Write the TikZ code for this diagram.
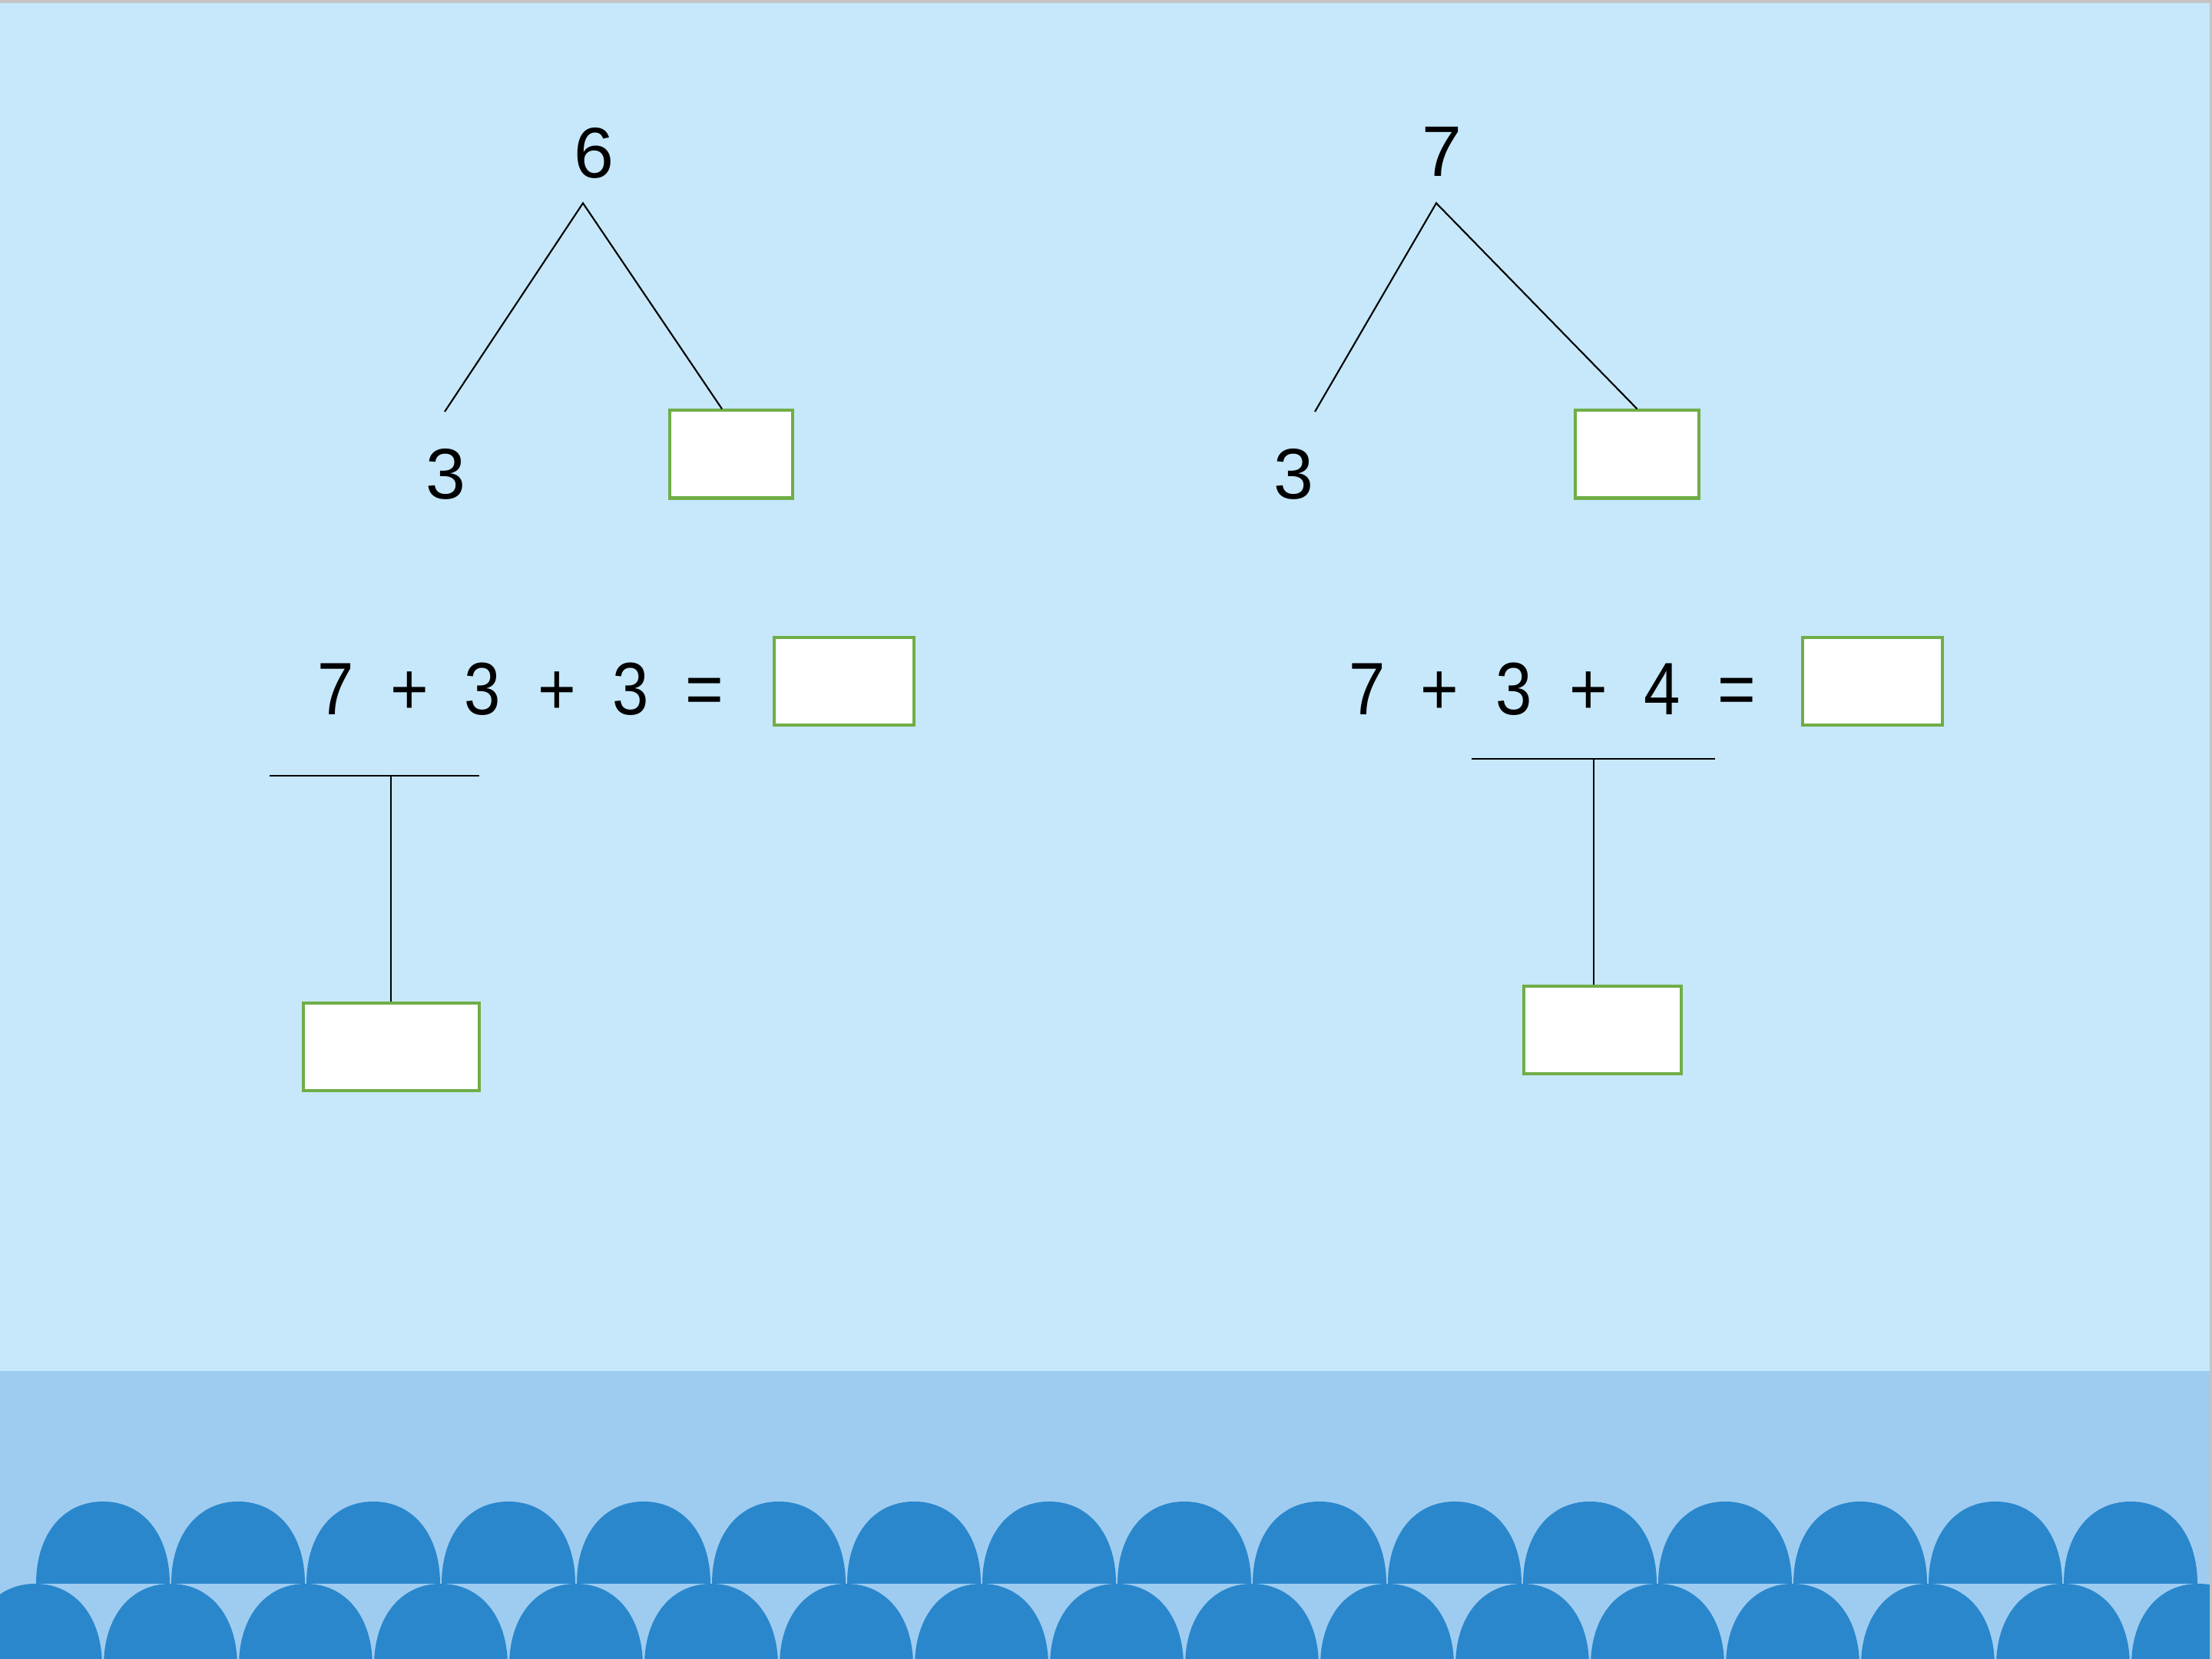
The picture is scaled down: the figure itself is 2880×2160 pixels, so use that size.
\documentclass[tikz,border=0pt]{standalone}
\usepackage{fontspec}
\setmainfont{Liberation Sans}
\newfontfamily\treefont{Liberation Sans}
\newfontfamily\eqfont[FakeStretch=0.88]{Liberation Sans}
\definecolor{bgblue}{HTML}{C6E8FA}
\definecolor{bandblue}{HTML}{9ECCF0}
\definecolor{domeblue}{HTML}{2A87CC}
\definecolor{boxgreen}{HTML}{70AD47}
\definecolor{edgegray}{HTML}{C4C4C4}
\tikzset{
  ansbox/.style={draw=boxgreen, line width=1.15pt, fill=white, inner sep=0pt, rectangle},
  treenum/.style={font=\treefont\fontsize{26.5}{30}\selectfont, inner sep=0pt, anchor=base},
  eqchar/.style={font=\eqfont\fontsize{27.5}{30}\selectfont, inner sep=0pt, anchor=base},
  link/.style={draw=black, line width=0.6pt},
  dome/.style={fill=domeblue}
}
% dome: #1 centre x, #2 base y (picture units)
\newcommand{\mydome}[2]{%
  \fill[dome] ({#1-87},#2) .. controls ({#1-87},{#2+64}) and ({#1-52},{#2+107}) .. ({#1},{#2+107})
    .. controls ({#1+52},{#2+107}) and ({#1+87},{#2+64}) .. ({#1+87},#2) -- cycle;}
\begin{document}
\begin{tikzpicture}[x=0.01cm,y=0.01cm]
\useasboundingbox (0,0) rectangle (2880,2160);
% background
\fill[bgblue] (0,0) rectangle (2880,2160);
\fill[bandblue] (0,0) rectangle (2880,375);
\begin{scope}
\clip (0,0) rectangle (2880,2160);
\foreach \k in {0,...,15} {
  \mydome{134+176*\k}{98}
}
\foreach \k in {0,...,16} {
  \mydome{46+176*\k}{-9}
}
\end{scope}
\fill[edgegray] (0,2156) rectangle (2880,2160);
\fill[edgegray] (2877,0) rectangle (2880,2160);

% ---- left tree ----
\node[treenum] (topL) at (773,1928) {6};
\node[treenum] (leftL) at (580,1510) {3};
\node[ansbox, minimum width=1.60cm, minimum height=1.14cm] (boxL) at (952,1568.5) {};
\coordinate (apexL) at (759,1895.5);
\coordinate (endLL) at (579,1624);
\coordinate (endLR) at ([xshift=-0.12cm]boxL.north);
\draw[link] (endLL) -- (apexL) -- (endLR);

% ---- right tree ----
\node[treenum] (topR) at (1877,1930) {7};
\node[treenum] (leftR) at (1684,1510) {3};
\node[ansbox, minimum width=1.60cm, minimum height=1.14cm] (boxR) at (2131.5,1568.5) {};
\coordinate (apexR) at (1870,1895.5);
\coordinate (endRL) at (1712,1624);
\draw[link] (endRL) -- (apexR) -- (boxR.north);

% ---- left equation ----
\node[eqchar] (la) at (437,1229) {7};
\node[eqchar] (lp1) at (533,1229) {+};
\node[eqchar] (lb) at (628,1229) {3};
\node[eqchar] (lp2) at (725,1229) {+};
\node[eqchar] (lc) at (821,1229) {3};
\node[eqchar] (leq) at (917,1229) {=};
\node[ansbox, minimum width=1.82cm, minimum height=1.14cm] (sumL) at (1099,1273) {};
\coordinate (barLa) at (351,1150);
\coordinate (barLb) at (624,1150);
\coordinate (barLm) at (509,1150);
\node[ansbox, minimum width=2.29cm, minimum height=1.14cm] (partL) at (509.5,797) {};
\draw[link] (barLa) -- (barLb);
\draw[link] (barLm) -- (barLm |- partL.north);

% ---- right equation ----
\node[eqchar] (ra) at (1780,1229) {7};
\node[eqchar] (rp1) at (1874,1229) {+};
\node[eqchar] (rb) at (1971,1229) {3};
\node[eqchar] (rp2) at (2068,1229) {+};
\node[eqchar] (rc) at (2164,1229) {4};
\node[eqchar] (req) at (2261,1229) {=};
\node[ansbox, minimum width=1.82cm, minimum height=1.14cm] (sumR) at (2438,1273) {};
\coordinate (barRa) at (1916,1172);
\coordinate (barRb) at (2233,1172);
\coordinate (barRm) at (2075,1172);
\node[ansbox, minimum width=2.05cm, minimum height=1.14cm] (partR) at (2086.5,819) {};
\draw[link] (barRa) -- (barRb);
\draw[link] (barRm) -- (barRm |- partR.north);
\end{tikzpicture}
\end{document}
